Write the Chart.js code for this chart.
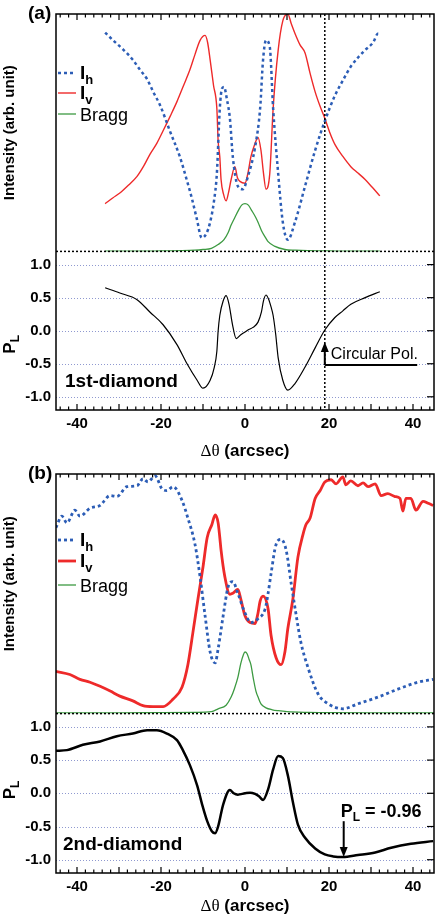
<!DOCTYPE html>
<html>
<head>
<meta charset="utf-8">
<script src="https://cdn.jsdelivr.net/npm/chart.js@4.4.1/dist/chart.umd.min.js"></script>
<style>
body { margin: 0; background: #fff; }
.panneau { position: absolute; left: 0; width: 436px; height: 460px; }
</style>
</head>
<body>
<div class="panneau" style="top:0"><canvas id="graphique-a" width="436" height="460"></canvas></div>
<div class="panneau" style="top:460px"><canvas id="graphique-b" width="436" height="460"></canvas></div>
<script>
// Axes communs
const ticksX = [-40, -20, 0, 20, 40];
const ticksPL = [-1.0, -0.5, 0.0, 0.5, 1.0];

// (a) 1st-diamond : intensites (unite arbitraire, 0-100) et P_L
const thetaA_h = [-33.3, -31.4, -29, -26.7, -25, -23.3, -21.8, -20.2, -17.9, -15.5, -13.9, -12.6, -11.5, -10.3, -9.2, -8.3, -7.4, -6.7, -6.0, -5.5, -5.0, -4.3, -3.6, -2.9, -1.7, -0.5, 0.7, 2.4, 3.6, 4.3, 5.0, 5.9, 6.7, 7.9, 9.0, 10.2, 11.9, 14.3, 16.7, 19.0, 21.4, 23.3, 25.2, 28.6, 30.5, 31.7, 32.1];
const ihA = [92.2, 88.9, 85.0, 80.7, 76.5, 72.5, 67.0, 61.5, 50.8, 39.8, 30.3, 22.0, 13.9, 5.7, 7.5, 12.3, 21.0, 32.8, 60.2, 68.5, 69.3, 64.0, 56.1, 39.8, 27.5, 26.2, 31.6, 43.9, 60.2, 80.7, 88.9, 86.1, 60.2, 32.8, 12.3, 4.9, 12.3, 27.5, 42.6, 54.9, 65.6, 72.0, 77.9, 84.8, 88.0, 91.8, 91.8];

const thetaA_v = [-33.3, -31.5, -29.8, -27.7, -25.7, -24.1, -22.6, -21, -19.5, -17.8, -16.2, -14.6, -13.1, -11.9, -10.7, -9.5, -8.9, -8.3, -7.5, -6.7, -6.4, -6.0, -5.7, -5.1, -4.5, -3.9, -3.3, -2.4, -1.8, -1.2, 0, 0.7, 1.4, 2.3, 3.1, 3.8, 4.4, 5.0, 5.9, 6.7, 7.9, 9.0, 10.2, 11.0, 11.9, 13.1, 14.3, 15.5, 16.7, 17.9, 19.0, 20.2, 21.4, 23.3, 25.2, 26.9, 28.6, 30.3, 32.1];
const ivA = [20.1, 22.5, 24.6, 28.0, 31.6, 36.0, 41.0, 45.5, 50.8, 57.0, 63.1, 70.0, 76.6, 83.0, 88.9, 91.0, 88.0, 80.7, 70.0, 60.2, 46.7, 39.8, 30.3, 24.0, 21.3, 25.0, 30.3, 35.7, 31.0, 29.5, 28.7, 33.0, 39.8, 45.0, 48.0, 42.6, 33.0, 26.2, 32.8, 60.2, 84.8, 97.1, 100, 96.0, 91.8, 87.0, 83.6, 75.0, 67.2, 61.0, 56.1, 50.0, 45.1, 40.0, 35.7, 33.0, 30.3, 27.0, 23.4];

const thetaA_bragg = [-33.3, -25, -20, -15, -12, -10, -8, -6.4, -5, -4, -3.3, -2.5, -1.5, -0.8, 0, 0.8, 1.5, 2.5, 3.1, 4, 5, 5.5, 7, 9.5, 12, 15, 20, 25, 32.1];
const braggA = [0.1, 0.1, 0.2, 0.3, 0.5, 0.8, 1.3, 2.9, 5.0, 8.0, 11.1, 14.0, 17.5, 19.5, 20.1, 19.5, 17.5, 14.5, 12.3, 8.5, 5.5, 4.1, 2.2, 0.8, 0.5, 0.3, 0.2, 0.1, 0.1];

const thetaA_pl = [-33.3, -29.8, -25.7, -22.6, -19.5, -16.2, -13.8, -11.4, -10, -8.3, -7.3, -6.7, -6.4, -6, -5.2, -4.5, -3.8, -3.0, -2.1, -1, 0, 0.7, 1.9, 3.1, 3.9, 4.4, 5, 5.6, 6.2, 6.7, 7.3, 7.9, 9, 10.2, 11.9, 14.3, 16.7, 19, 21.4, 23.3, 25.2, 28.6, 32.1];
const plA = [0.65, 0.57, 0.47, 0.28, 0.09, -0.21, -0.5, -0.75, -0.87, -0.75, -0.55, -0.31, -0.01, 0.23, 0.45, 0.53, 0.4, 0.1, -0.12, -0.06, -0.02, 0.01, 0.05, 0.13, 0.28, 0.45, 0.54, 0.48, 0.36, 0.23, -0.05, -0.41, -0.75, -0.9, -0.8, -0.55, -0.26, 0.01, 0.2, 0.3, 0.4, 0.5, 0.59];

// (b) 2nd-diamond
const thetaB_h = [-45, -43.6, -42.4, -40.5, -39.3, -36.9, -34.5, -32.1, -30.5, -28.1, -25.7, -24.3, -23.1, -21.4, -19.8, -18.6, -17.1, -15, -13.6, -11.9, -10.7, -9.5, -8.3, -7.1, -6.4, -6, -5.2, -4, -2.9, -1.7, 0, 1.4, 3.1, 4.8, 5.5, 6.2, 7.4, 8.6, 9.8, 11, 12.1, 13.3, 15, 17.4, 19.8, 23.3, 26.9, 31.7, 36.4, 41.2, 44.8];
const ihB = [77.6, 82.4, 79.6, 84.9, 82.4, 85.7, 86.9, 91.0, 90.6, 94.7, 95.1, 98, 96.7, 99.2, 93.9, 93.1, 94.7, 89, 81.6, 70.6, 57.1, 40.8, 25.7, 21.2, 27, 31.4, 40.8, 53, 55.1, 50.2, 42, 38, 39.6, 43.7, 50.2, 58.4, 70.6, 72.7, 68.2, 54.3, 42, 29.8, 19.2, 8.2, 4.1, 2, 4.1, 6.9, 10.2, 13.1, 14.3];

const thetaB_v = [-45, -41.7, -39.3, -36.9, -34.5, -32.1, -29.8, -26.7, -24.3, -21.9, -19.5, -17.1, -15, -13.6, -12.4, -11.2, -10, -9, -7.9, -7.1, -6.4, -6, -5.7, -4.8, -3.6, -2.9, -1.7, -1, 0, 1.2, 2.4, 3.1, 3.6, 4.3, 5.5, 6.2, 7.4, 8.6, 9.5, 10.2, 11.4, 12.6, 13.8, 14.5, 15.5, 16.7, 17.9, 19, 20.5, 21.7, 23.3, 24, 25.2, 26.9, 28.1, 29.3, 31, 32.4, 34, 35.7, 36.9, 37.6, 38.3, 39.5, 40.7, 42.4, 43.6, 44.8];
const ivB = [17.6, 16.3, 14.3, 13.1, 11.4, 9.4, 7.3, 5.3, 3.3, 2.9, 2.9, 6.1, 11, 20.4, 33.9, 47.8, 61.2, 73.5, 78.8, 82.9, 79.6, 73.5, 68.2, 57.1, 49.8, 50.2, 51.8, 47.8, 40.8, 38, 37.6, 42, 46.9, 49, 43.7, 32.7, 23.3, 20.4, 25.7, 35.5, 47.8, 65.3, 74.7, 78.8, 81.6, 89.8, 93.1, 96.7, 97.6, 95.9, 98.8, 95.5, 97.1, 95.1, 96.3, 94.7, 95.9, 91, 91.8, 90.6, 89.8, 84.5, 89.8, 89.8, 84.9, 88.6, 87.8, 86.9];

const thetaB_bragg = [-45, -30, -20, -12, -8, -6.4, -4.5, -3.3, -2.5, -1.7, -1, -0.4, 0, 0.5, 1, 1.4, 2, 2.6, 3.2, 3.8, 5, 6.5, 7.9, 10, 15, 20, 30, 45];
const braggB = [0.3, 0.3, 0.4, 0.5, 0.8, 2.0, 3.5, 6.9, 10.5, 15.1, 21, 24.5, 25.7, 25, 22.5, 20.4, 14.5, 9.4, 6.5, 4.1, 2.4, 1.6, 1.2, 0.8, 0.5, 0.4, 0.3, 0.3];

const thetaB_pl = [-45, -42.4, -38.6, -34.5, -30.5, -26.7, -23.3, -21, -18.6, -16.2, -14.8, -13.1, -11.4, -10.2, -9, -7.9, -7.1, -6.4, -5.2, -3.6, -2.7, -1.7, 0, 1.2, 2.4, 3.4, 4.3, 5.5, 6.7, 7.9, 9, 10.2, 11.4, 12.6, 14.3, 16.7, 19, 21, 23.3, 26.9, 31, 34.8, 39.5, 44.8];
const plB = [0.64, 0.65, 0.73, 0.78, 0.86, 0.9, 0.95, 0.95, 0.9, 0.8, 0.65, 0.42, 0.12, -0.17, -0.42, -0.57, -0.6, -0.5, -0.17, 0.05, 0.0, -0.02, 0.0, 0.01, -0.01, -0.05, -0.1, 0.06, 0.36, 0.56, 0.53, 0.27, -0.13, -0.47, -0.67, -0.83, -0.92, -0.95, -0.96, -0.93, -0.89, -0.82, -0.76, -0.72];

const BLEU = "#2c5db6", ROUGE = "#ee2a2a", VERT = "#3d9a42";
const POLICE = '"Liberation Sans", Arial, sans-serif';

function points(xs, ys) {
    return xs.map((x, i) => ({ x: x, y: ys[i] }));
}

// petit texte avec indice (I_h, P_L ...)
function texteIndice(ctx, x, y, base, indice, taille, gras) {
    const poids = gras ? "bold " : "";
    ctx.font = poids + taille + "px " + POLICE;
    ctx.fillText(base, x, y);
    const w = ctx.measureText(base).width;
    ctx.font = poids + Math.round(taille * 0.68) + "px " + POLICE;
    ctx.fillText(indice, x + w, y + taille * 0.25);
    return w + ctx.measureText(indice).width;
}

function fleche(ctx, x, y0, y1) {
    const sens = y1 > y0 ? 1 : -1;
    ctx.beginPath();
    ctx.moveTo(x, y0);
    ctx.lineTo(x, y1 - sens * 8);
    ctx.stroke();
    ctx.beginPath();
    ctx.moveTo(x, y1);
    ctx.lineTo(x - 4, y1 - sens * 10);
    ctx.lineTo(x + 4, y1 - sens * 10);
    ctx.closePath();
    ctx.fill();
}

const cadre = {
    id: "cadre",
    beforeDatasetsDraw(chart) {
        const ctx = chart.ctx, zone = chart.chartArea, yP = chart.scales.yP;
        ctx.save();
        ctx.strokeStyle = "#8f99d0";
        ctx.lineWidth = 1;
        ctx.setLineDash([1, 2]);
        for (const v of ticksPL) {
            const y = Math.round(yP.getPixelForValue(v)) + 0.5;
            ctx.beginPath();
            ctx.moveTo(zone.left, y);
            ctx.lineTo(zone.right, y);
            ctx.stroke();
        }
        ctx.restore();
    },
    afterDatasetsDraw(chart, args, opts) {
        const ctx = chart.ctx, zone = chart.chartArea;
        const x = chart.scales.x, yP = chart.scales.yP, yI = chart.scales.yI;
        ctx.save();
        ctx.strokeStyle = "#000";
        ctx.fillStyle = "#000";

        // separation pointillee entre intensite et P_L
        ctx.lineWidth = 1.5;
        ctx.setLineDash([2, 2]);
        ctx.beginPath();
        ctx.moveTo(zone.left, yP.top);
        ctx.lineTo(zone.right, yP.top);
        ctx.stroke();
        if (opts.ligneV !== undefined) {
            const xv = x.getPixelForValue(opts.ligneV);
            ctx.beginPath();
            ctx.moveTo(xv, zone.top);
            ctx.lineTo(xv, zone.bottom);
            ctx.stroke();
        }
        ctx.setLineDash([]);

        // cadre
        ctx.lineWidth = 1.5;
        ctx.strokeRect(zone.left, zone.top, zone.right - zone.left, zone.bottom - zone.top);

        // graduations
        ctx.lineWidth = 1.2;
        for (let v = -44; v <= 44; v += 2) {
            const px = x.getPixelForValue(v);
            const l = v % 10 === 0 ? 6 : 3.5;
            ctx.beginPath();
            ctx.moveTo(px, zone.top);
            ctx.lineTo(px, zone.top + l);
            ctx.moveTo(px, zone.bottom);
            ctx.lineTo(px, zone.bottom - l);
            ctx.stroke();
        }
        for (const v of ticksPL) {
            const py = yP.getPixelForValue(v);
            ctx.beginPath();
            ctx.moveTo(zone.right, py);
            ctx.lineTo(zone.right - 7, py);
            ctx.stroke();
        }

        // titres des axes
        ctx.textBaseline = "middle";
        ctx.textAlign = "center";
        ctx.save();
        ctx.translate(10, (yI.top + yI.bottom) / 2 + opts.decalI);
        ctx.rotate(-Math.PI / 2);
        ctx.font = "bold 15px " + POLICE;
        ctx.fillText("Intensity (arb. unit)", 0, 0);
        ctx.restore();

        ctx.save();
        ctx.translate(15, (yP.top + yP.bottom) / 2 + opts.decalP);
        ctx.rotate(-Math.PI / 2);
        ctx.textAlign = "left";
        ctx.textBaseline = "alphabetic";
        texteIndice(ctx, -10, 0, "P", "L", 17, true);
        ctx.restore();

        ctx.textAlign = "left";
        ctx.textBaseline = "alphabetic";
        ctx.font = "17px \"Liberation Serif\", serif";
        const t1 = "\u0394\u03b8";
        const w1 = ctx.measureText(t1).width;
        ctx.font = "bold 17px " + POLICE;
        const t2 = " (arcsec)";
        const w2 = ctx.measureText(t2).width;
        const x0 = x.getPixelForValue(0) - (w1 + w2) / 2;
        ctx.font = "17px \"Liberation Serif\", serif";
        ctx.fillText(t1, x0, opts.yTitre);
        ctx.font = "bold 17px " + POLICE;
        ctx.fillText(t2, x0 + w1, opts.yTitre);

        // lettre du panneau et nom du cristal
        ctx.textBaseline = "middle";
        ctx.font = "bold 19px " + POLICE;
        ctx.fillText(opts.lettre, 28, opts.yLettre);
        ctx.fillText(opts.cristal, opts.xCristal, opts.yCristal);

        // legende
        const lignes = [
            { couleur: BLEU, largeur: opts.lBleu, tirets: [3, 3], base: "I", indice: "h" },
            { couleur: ROUGE, largeur: opts.lRouge, tirets: [], base: "I", indice: "v" },
            { couleur: VERT, largeur: 1.3, tirets: [], base: "Bragg", indice: null }
        ];
        lignes.forEach((l, i) => {
            const yl = opts.yLegende[i];
            ctx.strokeStyle = l.couleur;
            ctx.lineWidth = l.largeur;
            ctx.setLineDash(l.tirets);
            ctx.beginPath();
            ctx.moveTo(58, yl);
            ctx.lineTo(76, yl);
            ctx.stroke();
            ctx.setLineDash([]);
            ctx.textBaseline = "alphabetic";
            if (l.indice) {
                texteIndice(ctx, 80, yl + 6, l.base, l.indice, 19, true);
            } else {
                ctx.font = "18px " + POLICE;
                ctx.fillText(l.base, 80, yl + 7);
            }
        });
        ctx.strokeStyle = "#000";

        // annotations
        ctx.lineWidth = 2;
        if (opts.circulaire) {
            const xa = x.getPixelForValue(opts.ligneV);
            const ya = yP.getPixelForValue(-0.52);
            fleche(ctx, xa, ya, yP.getPixelForValue(-0.17));
            ctx.beginPath();
            ctx.moveTo(xa, ya);
            ctx.lineTo(x.getPixelForValue(41), ya);
            ctx.stroke();
            ctx.font = "16px " + POLICE;
            ctx.textBaseline = "middle";
            ctx.fillText("Circular Pol.", xa + 6, ya - 10);
        }
        if (opts.minimum) {
            const xa = x.getPixelForValue(opts.minimum[0]);
            fleche(ctx, xa, yP.getPixelForValue(-0.42), yP.getPixelForValue(opts.minimum[1]));
            ctx.textBaseline = "alphabetic";
            const xt = xa - 3;
            const w = texteIndice(ctx, xt, yP.getPixelForValue(-0.35), "P", "L", 18, true);
            ctx.font = "bold 18px " + POLICE;
            ctx.fillText(" = " + opts.minimum[1].toFixed(2), xt + w, yP.getPixelForValue(-0.35));
        }
        ctx.restore();
    }
};

function afficherGraphique(id, series, deco, reglage) {
    const config = {
        type: "line",
        data: {
            datasets: [
                { label: "Ih", data: points(series.th, series.ih), yAxisID: "yI", borderColor: BLEU, borderWidth: reglage.lBleu, borderDash: [3, 3], pointRadius: 0, cubicInterpolationMode: "monotone" },
                { label: "Iv", data: points(series.tv, series.iv), yAxisID: "yI", borderColor: ROUGE, borderWidth: reglage.lRouge, pointRadius: 0, cubicInterpolationMode: "monotone" },
                { label: "Bragg", data: points(series.tb, series.bragg), yAxisID: "yI", borderColor: VERT, borderWidth: 1.3, pointRadius: 0, cubicInterpolationMode: "monotone" },
                { label: "PL", data: points(series.tp, series.pl), yAxisID: "yP", borderColor: "#000", borderWidth: reglage.lNoir, pointRadius: 0, cubicInterpolationMode: "monotone" }
            ]
        },
        options: {
            responsive: false,
            devicePixelRatio: 1,
            animation: false,
            events: [],
            layout: { padding: { top: reglage.haut, right: 2, left: 0, bottom: 0 } },
            plugins: { legend: { display: false }, tooltip: { enabled: false }, cadre: deco },
            scales: {
                // les axes empiles a gauche sont places dans l'ordre inverse : P_L d'abord
                yP: {
                    type: "linear", position: "left", stack: "v", stackWeight: 163,
                    min: -1.2, max: 1.2,
                    afterBuildTicks: s => { s.ticks = ticksPL.map(v => ({ value: v })); },
                    ticks: { padding: 5, color: "#000", font: { family: POLICE, weight: "bold", size: 15 }, callback: v => v.toFixed(1) },
                    grid: { display: false, drawTicks: false },
                    border: { display: false },
                    afterFit: s => { s.width = 56; }
                },
                yI: {
                    type: "linear", position: "left", stack: "v", stackWeight: reglage.poidsI,
                    min: 0, max: 100,
                    ticks: { display: false },
                    grid: { display: false, drawTicks: false },
                    border: { display: false },
                    afterFit: s => { s.width = 56; }
                },
                x: {
                    type: "linear", position: "bottom", min: -45, max: 45,
                    afterBuildTicks: s => { s.ticks = ticksX.map(v => ({ value: v })); },
                    ticks: { padding: 5, color: "#000", maxRotation: 0, autoSkip: false, font: { family: POLICE, weight: "bold", size: 15 } },
                    grid: { display: false, drawTicks: false },
                    border: { display: false },
                    afterFit: s => { s.height = reglage.hauteurX; }
                }
            }
        },
        plugins: [cadre]
    };
    return new Chart(document.querySelector(id), config);
}

afficherGraphique("#graphique-a",
    { th: thetaA_h, ih: ihA, tv: thetaA_v, iv: ivA, tb: thetaA_bragg, bragg: braggA, tp: thetaA_pl, pl: plA },
    { lettre: "(a)", yLettre: 14, cristal: "1st-diamond", xCristal: 65, yCristal: 382, decalI: 0, decalP: 13,
      yTitre: 456, ligneV: 19, circulaire: true, yLegende: [73, 93, 114], lBleu: 2.5, lRouge: 1.4 },
    { haut: 3, hauteurX: 50, poidsI: 244, lBleu: 2.5, lRouge: 1.4, lNoir: 1.2 });

afficherGraphique("#graphique-b",
    { th: thetaB_h, ih: ihB, tv: thetaB_v, iv: ivB, tb: thetaB_bragg, bragg: braggB, tp: thetaB_pl, pl: plB },
    { lettre: "(b)", yLettre: 14, cristal: "2nd-diamond", xCristal: 63, yCristal: 385, decalI: -10, decalP: -4,
      yTitre: 451, minimum: [23.5, -0.96], yLegende: [80, 101, 125], lBleu: 2.8, lRouge: 2.8 },
    { haut: 5, hauteurX: 47, poidsI: 245, lBleu: 2.8, lRouge: 2.8, lNoir: 2.5 });
</script>
</body>
</html>
